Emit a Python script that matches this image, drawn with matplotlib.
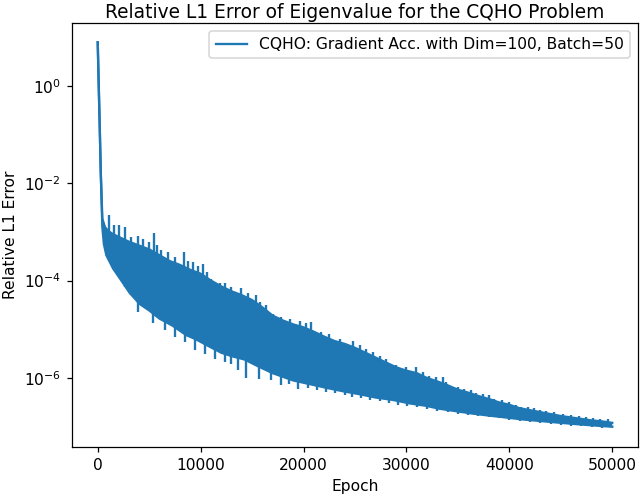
import numpy as np
import matplotlib
matplotlib.use('Agg')
import matplotlib.pyplot as plt

# values (log10 of the relative L1 error)
# dense top of the noisy band (between the spikes)
epoch_up = [0, 100, 200, 300, 450, 700, 1000, 1500, 2000, 3000, 4000, 5000,
            6000, 7000, 8000, 9000, 10000, 11000, 12000, 13000, 14000, 15000,
            16000, 17000, 18000, 19000, 20000, 21000, 22000, 23000, 24000, 25000,
            26000, 27000, 28000, 29000, 30000, 31000, 32000, 33000, 34000, 35000,
            36000, 37000, 38000, 39000, 40000, 41000, 42000, 43000, 44000, 45000,
            46000, 47000, 48000, 49000, 50000]
log_up = [0.89, 0.0, -0.88, -1.8, -2.73, -2.9, -2.98, -3.05, -3.1, -3.2, -3.28,
          -3.36, -3.48, -3.6, -3.68, -3.78, -3.86, -4.0, -4.12, -4.22, -4.3, -4.4,
          -4.55, -4.72, -4.82, -4.9, -4.96, -5.05, -5.15, -5.24, -5.3, -5.38,
          -5.48, -5.58, -5.68, -5.78, -5.85, -5.9, -6.0, -6.07, -6.15, -6.24,
          -6.3, -6.37, -6.43, -6.5, -6.55, -6.62, -6.66, -6.7, -6.74, -6.78,
          -6.81, -6.84, -6.87, -6.89, -6.92]

# dense bottom of the band
epoch_lo = [0, 100, 200, 300, 450, 600, 840, 1490, 2460, 3100, 4080, 5050, 6000,
            7310, 8610, 9500, 10550, 12000, 13000, 14270, 15500, 17000, 19000,
            20500, 22200, 23800, 25400, 27000, 28700, 30300, 31900, 33200, 34500,
            36440, 38000, 39680, 41300, 42910, 44500, 46150, 48000, 50000]
log_lo = [0.89, 0.0, -0.88, -1.8, -2.9, -3.25, -3.48, -3.75, -4.05, -4.25, -4.48,
          -4.62, -4.78, -4.93, -5.12, -5.2, -5.32, -5.48, -5.55, -5.62, -5.75,
          -5.9, -6.05, -6.12, -6.2, -6.27, -6.33, -6.4, -6.45, -6.52, -6.57,
          -6.63, -6.67, -6.73, -6.77, -6.81, -6.85, -6.88, -6.91, -6.94, -6.97,
          -7.0]

# tips of the spikes above the band
spike_epoch = [1070, 1590, 2040, 2690, 3270, 3920, 4400, 4950, 5470, 5800, 6180,
               6800, 7480, 8380, 8800, 9260, 9700, 10230, 10600, 11040, 11840,
               12400, 12980, 13950, 14600, 15400, 15730, 16380, 17020, 17830,
               18640, 19610, 20200, 20750, 21720, 22520, 23500, 24790, 25440,
               26100, 26730, 27400, 28030, 29000, 30000, 30940, 31600, 32230,
               32900, 33520, 33850, 34980, 35600, 36280, 36800, 37400, 38000,
               38540, 39300, 40000, 40600, 41130, 41800, 42430, 43000, 43560,
               44300, 45180, 46000, 46800, 47400, 48090, 48800, 49550]
spike_tip = [-2.66, -2.86, -2.86, -2.90, -3.10, -3.08, -3.15, -3.20, -3.03, -3.28,
             -3.38, -3.42, -3.51, -3.41, -3.60, -3.62, -3.70, -3.65, -3.82, -3.96,
             -4.06, -4.05, -4.13, -4.16, -4.25, -4.29, -4.44, -4.51, -4.68, -4.75,
             -4.78, -4.82, -4.88, -4.85, -5.05, -5.09, -5.19, -5.23, -5.33, -5.40,
             -5.47, -5.55, -5.60, -5.74, -5.78, -5.77, -5.88, -5.95, -5.97, -5.98,
             -6.08, -6.19, -6.22, -6.25, -6.30, -6.32, -6.35, -6.43, -6.46, -6.49,
             -6.55, -6.60, -6.60, -6.62, -6.66, -6.67, -6.70, -6.73, -6.76, -6.77,
             -6.80, -6.82, -6.84, -6.85]

# tips of the dips below the band
dip_epoch = [3920, 5370, 6500, 7480, 8450, 9420, 10390, 11400, 12330, 13000,
             13620, 14400, 15700, 16800, 17800, 18600, 19500, 20400, 21300, 22200,
             23100, 24000, 24700, 25600, 26500, 27400, 28300, 29200, 30100, 31000,
             32000, 33000, 34000, 35000, 36000, 37000, 38000, 39000, 40000, 41000,
             42000, 43000, 44000, 45000, 46000, 47000, 48000, 49000]
dip_tip = [-4.64, -4.88, -5.02, -5.16, -5.26, -5.43, -5.50, -5.60, -5.67, -5.72,
           -5.84, -6.00, -6.02, -6.05, -6.14, -6.12, -6.23, -6.20, -6.25, -6.28,
           -6.30, -6.35, -6.39, -6.40, -6.45, -6.48, -6.52, -6.55, -6.58, -6.60,
           -6.63, -6.67, -6.70, -6.73, -6.76, -6.78, -6.81, -6.83, -6.86, -6.88,
           -6.90, -6.92, -6.94, -6.96, -6.98, -6.99, -7.01, -7.02]

col = '#1f77b4'
fig, ax = plt.subplots(figsize=(641 / 112, 496 / 112), dpi=112)

err_up = 10.0 ** np.array(log_up)
err_lo = 10.0 ** np.array(log_lo)
ax.fill(list(epoch_up) + list(epoch_lo[::-1]),
        list(err_up) + list(err_lo[::-1]), color=col, lw=0)
ax.plot(epoch_up, err_up, color=col, lw=1.5,
        label='CQHO: Gradient Acc. with Dim=100, Batch=50')
ax.plot(epoch_lo, err_lo, color=col, lw=1.5)

# spikes are drawn from inside the band out to their tips
spike_foot = np.interp(spike_epoch, epoch_lo, log_lo)
ax.vlines(spike_epoch, 10.0 ** spike_foot, 10.0 ** np.array(spike_tip),
          color=col, lw=1.5)
dip_foot = np.interp(dip_epoch, epoch_up, log_up)
ax.vlines(dip_epoch, 10.0 ** np.array(dip_tip), 10.0 ** dip_foot,
          color=col, lw=1.5)

ax.set_yscale('log')
ax.set_yticks([1e-6, 1e-4, 1e-2, 1e0])
ax.yaxis.set_minor_locator(matplotlib.ticker.NullLocator())
ax.set_xticks([0, 10000, 20000, 30000, 40000, 50000])
ax.set_xlabel('Epoch')
ax.set_ylabel('Relative L1 Error')
ax.set_title('Relative L1 Error of Eigenvalue for the CQHO Problem', pad=3)
ax.legend(loc='upper right')
plt.subplots_adjust(left=0.1123, right=0.9953, top=0.9536, bottom=0.0988)
plt.savefig('out.png', dpi=112)
